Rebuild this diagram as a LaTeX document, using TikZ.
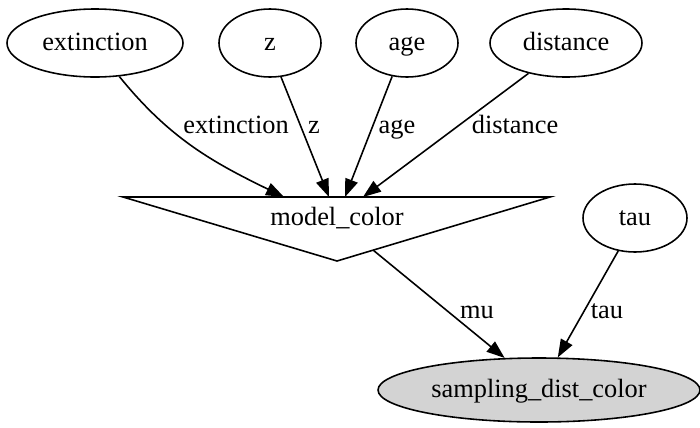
\documentclass[tikz,border=0pt]{standalone}
\usepackage{fontspec}
\setmainfont{Liberation Serif}
\usetikzlibrary{shapes.geometric,arrows.meta}

\begin{document}
\begin{tikzpicture}[font=\fontsize{15}{18}\selectfont,
        var/.style={ellipse,draw,line width=0.9pt,inner sep=0pt,minimum height=1.36cm,
            text height=1.0em,text depth=0.16em},
        lbl/.style={inner sep=0pt,text height=1.0em,text depth=0.16em},
        edge/.style={line width=0.9pt,-{Triangle[length=0.36cm,width=0.26cm]}}]
    \useasboundingbox (0,0) rectangle (14,-8.54);

    % Level 0
    \node[var,minimum width=3.52cm] (extinction) at (1.9,-0.86) {extinction};
    \node[var,minimum width=2.04cm] (z) at (5.4,-0.86) {z};
    \node[var,minimum width=2.04cm] (age) at (8.14,-0.86) {age};
    \node[var,minimum width=3.04cm] (distance) at (11.32,-0.86) {distance};

    % Level 1
    \coordinate (tl) at (2.46,-3.94);
    \coordinate (tr) at (11.0,-3.94);
    \coordinate (tb) at (6.74,-5.22);
    \draw[line width=0.9pt] (tl) -- (tr) -- (tb) -- cycle;
    \node[lbl] (model) at (6.74,-4.36) {model\_color};
    \node[var,minimum width=2.08cm] (tau) at (12.7,-4.36) {tau};

    % Level 2
    \node[var,fill={rgb,255:red,211;green,211;blue,211},minimum width=6.44cm,minimum height=1.28cm]
        (samp) at (10.78,-7.8) {sampling\_dist\_color};

    % Edge ends
    \coordinate (inext) at (5.68,-3.94);
    \coordinate (inz) at (6.58,-3.94);
    \coordinate (inage) at (6.9,-3.94);
    \coordinate (indist) at (7.26,-3.94);
    \coordinate (outmu) at (7.46,-5.0);

    % Edges
    \draw[edge] (extinction.-54) to[out=-51,in=154] (inext);
    \draw[edge] (z.-72) -- (inz);
    \draw[edge] (age.-114) -- (inage);
    \draw[edge] (distance.-141) -- (indist);
    \draw[edge] (outmu) -- (samp.137);
    \draw[edge] (tau.-117) -- (samp.60);

    % Edge labels
    \node[lbl] (lext) at (4.72,-2.52) {extinction};
    \node[lbl] (lz) at (6.28,-2.52) {z};
    \node[lbl] (lage) at (7.94,-2.52) {age};
    \node[lbl] (ldist) at (10.3,-2.52) {distance};
    \node[lbl] (lmu) at (9.54,-6.22) {mu};
    \node[lbl] (ltau) at (12.14,-6.22) {tau};
\end{tikzpicture}
\end{document}
